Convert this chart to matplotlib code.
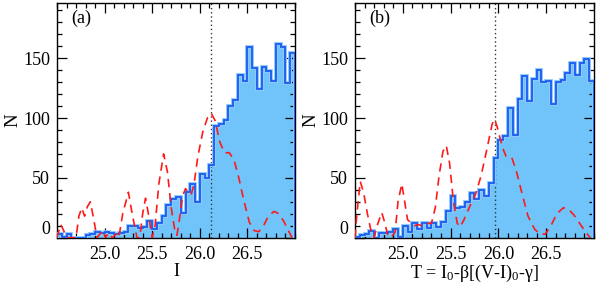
import matplotlib
matplotlib.use('Agg')
import matplotlib.pyplot as plt
from matplotlib.ticker import MultipleLocator
import numpy as np

plt.rcParams['font.family'] = ['Liberation Serif', 'DejaVu Serif']
plt.rcParams['mathtext.fontset'] = 'custom'
plt.rcParams['mathtext.rm'] = 'Liberation Serif'
plt.rcParams['mathtext.default'] = 'regular'

# histogram bins: 0.05 mag wide, 24.5 .. 27.0
bin_edges = [24.5 + 0.05 * i for i in range(51)]

# panel (a): counts per bin in I
counts_a = [3, 1, 3, 0, 0, 0, 2, 3, 5, 4,
            5, 4, 3, 4, 5, 10, 10, 8, 9, 14,
            7, 12, 18, 27, 32, 34, 21, 38, 45, 30,
            53, 50, 61, 93, 95, 98, 110, 115, 136, 131,
            159, 142, 124, 143, 139, 131, 162, 159, 129, 154]

# panel (b): counts per bin in T
counts_b = [1, 2, 3, 6, 0, 4, 4, 5, 7, 1,
            10, 5, 12, 7, 12, 8, 12, 9, 13, 22,
            35, 25, 26, 30, 37, 32, 40, 35, 46, 67,
            82, 85, 108, 86, 116, 135, 114, 133, 140, 130,
            131, 112, 130, 132, 138, 146, 136, 146, 149, 131]

# red dashed edge-detector responses
edge_x_a = [24.50, 24.52, 24.54, 24.57, 24.60, 24.70, 24.73, 24.76, 24.79, 24.82,
            24.85, 24.88, 24.92, 24.95, 24.98, 25.01, 25.04, 25.08, 25.12, 25.15,
            25.19, 25.25, 25.29, 25.34, 25.37, 25.40, 25.43, 25.46, 25.50, 25.53,
            25.57, 25.62, 25.66, 25.70, 25.74, 25.76, 25.78, 25.82, 25.85, 25.88,
            25.91, 25.94, 25.98, 26.03, 26.08, 26.12, 26.16, 26.21, 26.26, 26.31,
            26.36, 26.41, 26.46, 26.52, 26.57, 26.62, 26.67, 26.72, 26.78, 26.83,
            26.88, 26.93, 26.97]
edge_y_a = [0, 6, 11, 6, 0, 0, 18, 25, 18, 26,
            30, 18, 0, 3, 6, 0, 4, 0, 3, 0,
            20, 38, 20, 0, 0, 20, 33, 20, 0, 10,
            45, 70, 55, 25, 5, 2, 12, 35, 41, 38,
            36, 45, 68, 88, 100, 104, 98, 80, 71, 71,
            65, 50, 32, 13, 6, 5, 10, 18, 22, 20,
            14, 6, 0]

edge_x_b = [24.50, 24.52, 24.555, 24.59, 24.63, 24.67, 24.70, 24.74, 24.78, 24.81,
            24.84, 24.88, 24.92, 24.95, 24.99, 25.02, 25.05, 25.08, 25.12, 25.16,
            25.20, 25.25, 25.30, 25.34, 25.38, 25.42, 25.455, 25.49, 25.53, 25.57,
            25.60, 25.64, 25.70, 25.76, 25.82, 25.88, 25.935, 25.96, 25.99, 26.04,
            26.08, 26.14, 26.19, 26.25, 26.31, 26.38, 26.44, 26.49, 26.55, 26.61,
            26.68, 26.73, 26.79, 26.85, 26.91, 26.96]
edge_y_b = [0, 20, 47, 38, 20, 5, 0, 12, 21, 13,
            3, 0, 5, 30, 45, 30, 15, 13, 10, 11,
            10, 12, 12, 25, 52, 72, 77, 62, 30, 12,
            9, 15, 26, 36, 52, 74, 95, 99, 92, 76,
            68, 67, 55, 36, 18, 7, 3, 3, 10, 20,
            25, 24, 19, 12, 5, 0]

# tip of the red giant branch
trgb_a = 26.12
trgb_b = 25.965

fill_col = '#70c4fa'
line_col = '#1a5cf0'
halo_col = '#8ec9ff'


def panel(ax, counts, ex, ey, trgb, tag, xlabel):
    ax.stairs(counts, bin_edges, fill=True, color=fill_col, zorder=1)
    ax.axvline(trgb, color='#333333', ls=(0, (1, 2)), lw=1, zorder=2)
    ax.stairs(counts, bin_edges, color=halo_col, lw=2.8, zorder=3)
    ax.stairs(counts, bin_edges, color=line_col, lw=1.3, zorder=4)
    ax.plot(ex, ey, color='#ff1a1a', ls=(0, (5, 3.5)), lw=1.2, zorder=5)

    ax.set_xlim(24.5, 27.0)
    ax.set_ylim(0, 196)
    ax.set_xticks([25.0, 25.5, 26.0, 26.5])
    ax.set_xticklabels(['25.0', '25.5', '26.0', '26.5'])
    ax.set_yticks([0, 50, 100, 150])
    ax.set_yticklabels(['0', '50', '100', '150'])
    ax.get_yticklabels()[0].set_va('bottom')
    ax.xaxis.set_minor_locator(MultipleLocator(0.1))
    ax.yaxis.set_minor_locator(MultipleLocator(10))
    ax.tick_params(which='both', direction='in', top=True, right=True,
                   labelsize=13, width=0.9, colors='black')
    ax.tick_params(which='major', length=7)
    ax.tick_params(axis='x', which='major', pad=6)
    ax.tick_params(axis='y', which='major', pad=5)
    ax.tick_params(which='minor', length=3.5)
    for s in ax.spines.values():
        s.set_linewidth(1.0)

    ax.set_xlabel(xlabel, fontsize=13, labelpad=0)
    ax.set_ylabel('N', fontsize=13.5, labelpad=1)
    ax.text(0.06, 0.934, tag, transform=ax.transAxes, fontsize=13,
            ha='left', va='center')


fig = plt.figure(figsize=(5.98, 2.84), dpi=100)
ax1 = fig.add_axes([0.0953, 0.163, 0.398, 0.826])
ax2 = fig.add_axes([0.5936, 0.163, 0.3997, 0.826])

panel(ax1, counts_a, edge_x_a, edge_y_a, trgb_a, '(a)', 'I')
panel(ax2, counts_b, edge_x_b, edge_y_b, trgb_b, '(b)',
      r'T = I$_0$-β[(V-I)$_0$-γ]')

fig.savefig('out.png', dpi=100)
